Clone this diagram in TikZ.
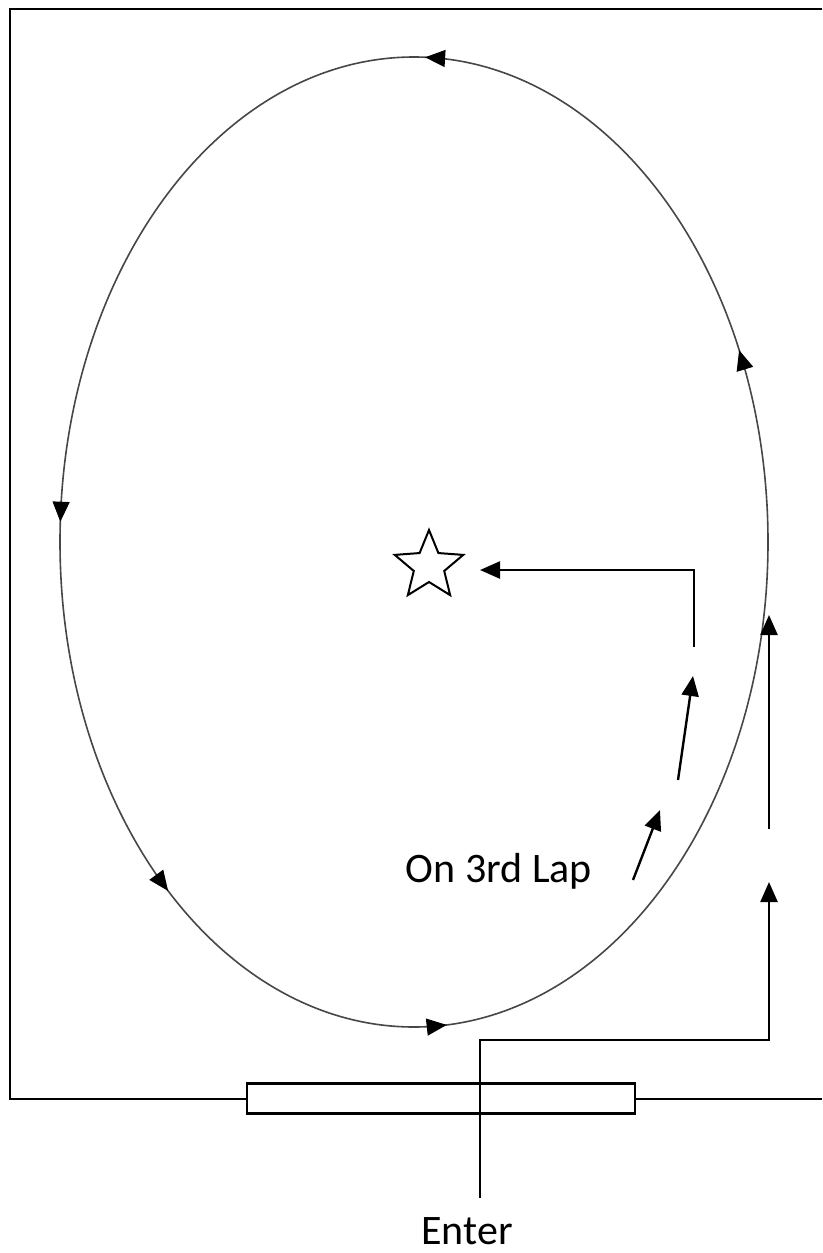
\documentclass[tikz,border=0pt]{standalone}
\usepackage{fontspec}
\setmainfont{Carlito}
\usetikzlibrary{arrows.meta,shapes.geometric,calc}
\begin{document}
\begin{tikzpicture}[x=1pt,y=1pt,
  wall/.style={line width=2.2pt,black},
  route/.style={line width=2.4pt,black},
  tipped/.style={-{Triangle[length=20pt,width=17pt]}},
  track/.style={line width=1.6pt,black!72},
  lbl/.style={font=\fontsize{42}{50}\selectfont,inner sep=0pt,anchor=base}]
\useasboundingbox (0,0) rectangle (822,-1253);
\fill[white] (0,0) rectangle (822,-1253);
% outer wall and gate
\draw[wall] (822,-9) -- (10,-9) -- (10,-1099) -- (247,-1099);
\draw[wall] (635,-1099) -- (822,-1099);
\node[wall,draw,fill=white,minimum width=388pt,minimum height=30pt,inner sep=0pt] (gate) at (441,-1098.5) {};
% track
\draw[track] (414,-542) ellipse [x radius=354, y radius=485];
\foreach \t in {88.2,177.6,226,275.3,23.3}
  \draw[line width=1.2pt,black,tipped] ({414+354*cos(\t-1.5)},{-542+485*sin(\t-1.5)}) -- ({414+354*cos(\t)},{-542+485*sin(\t)});
% star
\node[star,star points=5,star point ratio=2.25,draw,line width=2pt,minimum size=72pt,inner sep=0pt] (goal) at (429,-566) {};
% labels
\node[lbl,text depth=0pt] (enter) at (467,-1244) {Enter};
\node[lbl] (lap) at (499,-882) {On 3rd Lap};
% entry route
\coordinate (start) at (480,-1198);
\coordinate (turn1) at (480,-1040);
\coordinate (turn2) at (769,-1040);
\coordinate (tip1) at (769,-882);
\coordinate (rise) at (769,-829);
\coordinate (merge) at (769,-615);
\draw[route,tipped] (start) -- (turn1) -- (turn2) -- (tip1);
\draw[route,tipped] (rise) -- (merge);
% third lap route
\coordinate (l1a) at (633,-880);
\coordinate (l1b) at (660,-810);
\coordinate (l2a) at (678,-780);
\coordinate (l2b) at (693,-676);
\coordinate (l3a) at (694,-647);
\coordinate (l3b) at (694,-570);
\coordinate (l3c) at (480,-570);
\draw[route,tipped] (l1a) -- (l1b);
\draw[route,tipped] (l2a) -- (l2b);
\draw[route,tipped] (l3a) -- (l3b) -- (l3c);
\end{tikzpicture}
\end{document}
